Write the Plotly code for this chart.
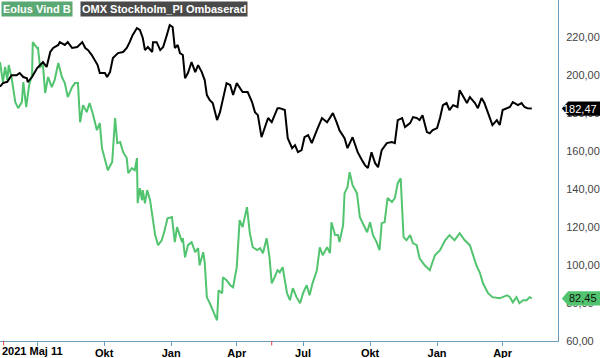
import pandas as pd
import plotly.graph_objects as go

start = pd.Timestamp("2021-05-11")

# OMX Stockholm_PI Ombaserad (days since start, value)
omx_days = [0, 4, 10, 16, 23, 27, 32, 37, 38, 44, 51, 55, 59, 64, 69, 73, 80, 82, 89, 93, 99, 106, 113, 117, 121, 126,
            130, 134, 137, 144, 147, 151, 155, 162, 169, 174, 178, 182, 188, 192, 196, 199, 203, 209, 210, 215, 220,
            224, 229, 233, 237, 240, 244, 247, 251, 254, 258, 263, 268, 272, 277, 281, 284, 288, 292, 298, 302, 306,
            311, 316, 320, 325, 329, 333, 340, 346, 350, 354, 359, 364, 368, 373, 377, 381, 384, 391, 395, 401, 405,
            409, 414, 418, 423, 428, 435, 442, 449, 453, 457, 462, 466, 473, 477, 484, 491, 497, 501, 505, 510, 515,
            519, 524, 531, 538, 542, 546, 552, 556, 563, 567, 572, 576, 580, 586, 590, 594, 600, 604, 608, 613, 617,
            622, 628, 631, 635, 641, 645, 652, 656, 661, 665, 672, 676, 682, 686, 690, 696, 700, 704, 711, 716, 720,
            724, 730]
omx_vals = [194.0, 195.9, 196.6, 200.1, 200.1, 201.2, 199.1, 198.5, 196.4, 199.1, 203.8, 205.4, 207.0, 204.4, 212.3,
            214.4, 216.0, 217.5, 216.0, 217.5, 214.4, 214.9, 217.5, 214.4, 213.3, 210.7, 208.0, 205.4, 201.2, 201.2,
            199.1, 201.7, 209.1, 211.7, 212.3, 214.4, 217.5, 221.2, 224.9, 223.9, 219.7, 213.3, 214.9, 212.3, 217.5,
            217.5, 213.3, 214.9, 221.2, 226.5, 225.4, 214.4, 216.0, 211.7, 210.7, 198.5, 201.2, 207.0, 201.7, 205.4,
            201.7, 197.5, 189.6, 186.9, 185.4, 176.4, 180.6, 188.0, 195.9, 194.9, 189.6, 195.9, 193.8, 191.2, 191.2,
            185.9, 180.6, 179.0, 167.4, 172.7, 177.5, 175.3, 179.0, 182.7, 182.7, 181.7, 166.9, 161.6, 163.2, 159.5,
            160.6, 167.4, 168.5, 164.3, 171.1, 177.5, 175.3, 178.0, 180.1, 175.3, 171.1, 166.9, 161.6, 167.4, 159.5,
            155.3, 152.7, 151.1, 159.5, 153.7, 151.6, 160.6, 164.3, 164.8, 164.3, 176.4, 177.5, 172.7, 174.8, 178.0,
            177.5, 176.4, 179.0, 170.1, 169.5, 171.1, 172.2, 177.5, 184.3, 185.4, 181.7, 184.3, 183.3, 192.2, 189.6,
            185.4, 188.5, 185.4, 182.7, 188.0, 185.4, 178.0, 173.8, 176.4, 173.8, 181.7, 182.7, 183.3, 185.9, 184.3,
            185.4, 183.3, 182.7, 182.47]

# Eolus Vind B (days since start, value)
eolus_days = [0, 4, 7, 10, 12, 16, 21, 25, 30, 32, 36, 40, 44, 45, 51, 52, 55, 59, 62, 66, 71, 75, 80, 85, 89, 93, 99,
              103, 107, 110, 114, 119, 123, 128, 133, 137, 140, 144, 148, 154, 158, 161, 165, 169, 174, 176, 181, 185,
              188, 189, 192, 195, 196, 199, 202, 206, 210, 213, 217, 222, 226, 230, 236, 237, 240, 243, 247, 250, 251,
              254, 258, 263, 268, 272, 274, 279, 281, 284, 288, 292, 298, 300, 305, 306, 311, 316, 320, 325, 329, 333,
              339, 343, 347, 353, 357, 361, 366, 370, 373, 377, 381, 384, 388, 394, 398, 402, 407, 412, 416, 421, 425,
              429, 435, 439, 443, 449, 453, 455, 460, 464, 466, 471, 473, 477, 480, 484, 490, 494, 498, 504, 508, 512,
              517, 521, 524, 528, 532, 538, 542, 546, 550, 554, 558, 563, 567, 572, 576, 583, 590, 597, 604, 611, 617,
              624, 631, 638, 645, 649, 654, 659, 663, 670, 676, 686, 690, 696, 700, 704, 709, 713, 718, 723, 727, 730]
eolus_vals = [207.0, 196.4, 204.4, 197.5, 205.4, 198.5, 185.9, 182.7, 185.9, 196.4, 183.3, 194.9, 200.1, 217.5, 214.4,
              214.9, 204.4, 205.4, 190.7, 199.1, 193.8, 197.5, 206.5, 199.1, 195.9, 188.5, 193.8, 195.9, 195.9, 175.3,
              184.3, 180.6, 185.4, 179.0, 171.1, 174.8, 161.6, 156.4, 150.0, 154.3, 177.5, 164.3, 164.8, 159.5, 156.4,
              148.4, 151.1, 150.0, 156.4, 132.6, 140.5, 134.2, 139.5, 132.6, 139.5, 134.2, 123.7, 115.8, 110.5, 113.1,
              118.4, 124.7, 125.3, 122.6, 112.1, 120.0, 114.7, 112.1, 114.2, 104.1, 110.5, 112.1, 106.8, 108.9, 99.9,
              106.8, 101.5, 83.0, 79.9, 76.2, 70.9, 86.7, 85.2, 93.6, 92.0, 89.4, 88.3, 98.9, 123.7, 120.0, 130.5,
              116.8, 109.4, 107.9, 108.9, 106.3, 114.2, 104.1, 90.4, 93.6, 97.3, 96.2, 98.9, 85.2, 81.5, 87.8, 83.1,
              79.9, 85.2, 89.4, 84.1, 90.4, 97.3, 109.4, 105.2, 109.4, 106.3, 122.6, 115.8, 115.8, 112.1, 121.0, 137.9,
              141.1, 149.0, 142.1, 137.9, 125.2, 122.1, 117.3, 122.6, 115.8, 112.1, 107.9, 122.1, 122.6, 135.3, 133.2,
              135.3, 143.2, 145.8, 114.7, 113.1, 115.8, 111.5, 110.5, 103.6, 99.9, 97.3, 105.2, 107.9, 113.1, 115.8,
              113.1, 116.8, 113.1, 110.5, 105.2, 99.9, 95.7, 90.4, 85.2, 83.1, 82.5, 83.1, 84.1, 83.1, 80.4, 83.1,
              79.9, 81.5, 81.5, 83.1, 82.45]

tick_dates = ["2021-07-01", "2021-10-01", "2022-01-01", "2022-04-01", "2022-07-01", "2022-10-01", "2023-01-01", "2023-04-01"]
tick_text = ["", "Okt", "Jan", "Apr", "Jul", "Okt", "Jan", "Apr"]
y_ticks = [60, 80, 100, 120, 140, 160, 180, 200, 220]
marker_dates = ["2021-05-16", "2022-05-19"]

omx_x = start + pd.to_timedelta(omx_days, unit="D")
eolus_x = start + pd.to_timedelta(eolus_days, unit="D")

GREEN = "#52c46f"
AXIS = "#6b9dbd"
FONT = "Arial, Liberation Sans, sans-serif"

fig = go.Figure()
fig.add_trace(go.Scatter(x=eolus_x, y=eolus_vals, mode="lines", line=dict(color=GREEN, width=2),
                         name="Eolus Vind B", showlegend=False))
fig.add_trace(go.Scatter(x=omx_x, y=omx_vals, mode="lines", line=dict(color="#000000", width=2),
                         name="OMX Stockholm_PI Ombaserad", showlegend=False))

fig.update_layout(
    width=600, height=358,
    margin=dict(l=0, r=42, t=0, b=17, autoexpand=False),
    paper_bgcolor="white", plot_bgcolor="white",
    separators=", ",
    font=dict(family=FONT, size=11, color="#333"),
    xaxis=dict(
        range=["2021-05-11", "2023-06-16"],
        tickvals=tick_dates, ticktext=["<b>%s</b>" % t if t else "" for t in tick_text],
        showgrid=False, zeroline=False, automargin=False,
        showline=True, linecolor=AXIS, linewidth=1,
        ticks="outside", ticklen=4, tickcolor=AXIS,
        ticklabelstandoff=-2,
        tickfont=dict(family=FONT, size=11, color="#000"),
    ),
    yaxis=dict(
        range=[60, 239.7], side="right",
        tickvals=y_ticks, tickformat=".2f",
        showgrid=False, zeroline=False, automargin=False,
        showline=True, linecolor=AXIS, linewidth=1,
        ticks="", ticklabelstandoff=5,
        tickfont=dict(family=FONT, size=11, color="#444"),
    ),
)

# start-date label
fig.add_annotation(text="<b>2021 Maj 11</b>", xref="paper", yref="paper", x=0, y=0,
                   xanchor="left", yanchor="top", yshift=-2, showarrow=False,
                   font=dict(family=FONT, size=11, color="#000"))

# red markers on x-axis
for d in marker_dates:
    fig.add_shape(type="line", xref="x", yref="paper", x0=d, x1=d, y0=0, y1=-0.013,
                  line=dict(color="#e8413c", width=1))

# legend boxes
fig.add_annotation(text="<b>Eolus Vind B</b>", xref="paper", yref="paper", x=0, y=1,
                   xanchor="left", yanchor="top", showarrow=False, bgcolor="#5aa874",
                   font=dict(family=FONT, size=11, color="white"), borderpad=1, xshift=1, yshift=-1)
fig.add_annotation(text="<b>OMX Stockholm_PI Ombaserad</b>", xref="paper", yref="paper", x=0, y=1,
                   xanchor="left", yanchor="top", showarrow=False, bgcolor="#4a4a4a",
                   font=dict(family=FONT, size=11, color="white"), borderpad=1, xshift=80, yshift=-1)

# last value tags
for val, bg, fg in [(omx_vals[-1], "#000000", "white"), (eolus_vals[-1], GREEN, "#111")]:
    h = 3.8
    fig.add_shape(type="path", xref="paper", yref="y",
                  path=f"M 1.007 {val} L 1.018 {val + h} L 1.08 {val + h} L 1.08 {val - h} L 1.018 {val - h} Z",
                  fillcolor=bg, line=dict(width=0), layer="above")
    fig.add_annotation(text=f"{val:.2f}".replace(".", ","), xref="paper", yref="y", x=1.0735, y=val,
                       xanchor="right", yanchor="middle", showarrow=False,
                       font=dict(family=FONT, size=11, color=fg))

fig.write_html("out.html", config={"displayModeBar": False},
               post_script="document.body.style.margin='0';document.body.style.overflow='hidden';")
